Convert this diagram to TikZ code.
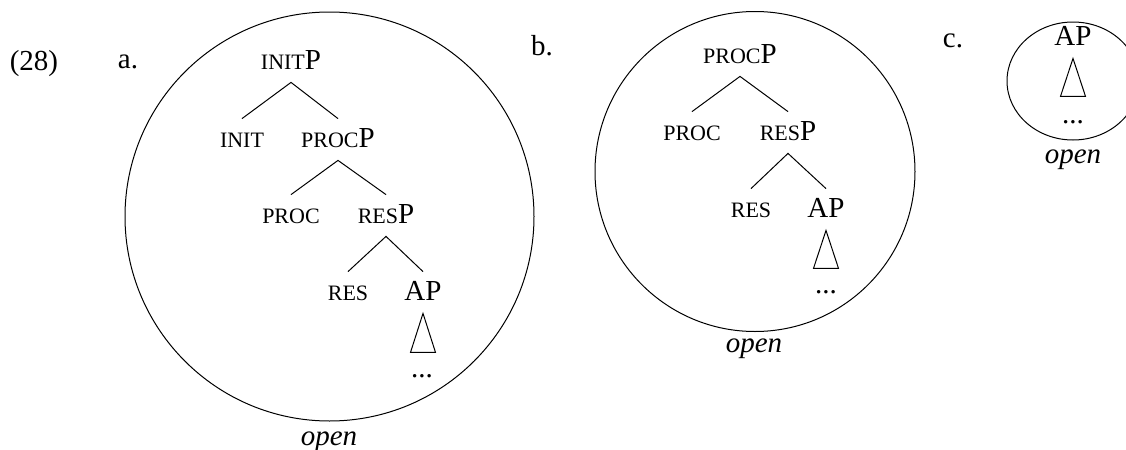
\documentclass[tikz,border=0pt]{standalone}
\usepackage{fontspec}
\setmainfont{Liberation Serif}
\newcommand{\smc}[1]{{\fontsize{11}{13}\selectfont #1}}
\tikzset{
  lab/.style={anchor=base,inner sep=0pt,font=\fontsize{14.5}{17}\selectfont},
  cat/.style={anchor=base,inner xsep=0pt,inner ysep=4.5pt,text height=9.5pt,text depth=2pt,font=\fontsize{14.5}{17}\selectfont},
  branch/.style={line width=0.5pt},
  ring/.style={line width=0.5pt}
}
\begin{document}
\begin{tikzpicture}[x=0.5pt,y=-0.5pt]
        \useasboundingbox (0,0) rectangle (1126,450);
        \node[lab] (ex) at (34,70) {(28)};
        \node[lab] (la) at (128,68) {a.};
        \node[lab] (lb) at (542,55) {b.};
        \node[lab] (lc) at (953,47) {c.};
        \begin{scope}
        \draw[ring] (329.5,216.5) circle [radius=204.5];
        \node[cat] (initP) at (291,69) {\smc{INIT}P};
        \node[cat] (init) at (242,147) {\smc{INIT}};
        \node[cat] (procP) at (338,147) {\smc{PROC}P};
        \node[cat] (proc) at (291,223) {\smc{PROC}};
        \node[cat] (resP) at (386,223) {\smc{RES}P};
        \node[cat] (res) at (348,300) {\smc{RES}};
        \node[cat] (APa) at (423,300) {AP};
        \node[lab] (dotsA) at (422,377) {...};
        \node[lab] (openA) at (329,445) {\textit{open}};
        \draw[branch] (init.north) -- (initP.south) -- (procP.north);
        \draw[branch] (proc.north) -- (procP.south) -- (resP.north);
        \draw[branch] (res.north) -- (resP.south) -- (APa.north);
        \draw[branch] (APa.south) -- ++(-12.5,39) -- ++(25,0) -- cycle;
        \end{scope}
        \begin{scope}
        \draw[ring] (755,171.5) circle [radius=160];
        \node[cat] (procPb) at (740,63) {\smc{PROC}P};
        \node[cat] (procb) at (692,140) {\smc{PROC}};
        \node[cat] (resPb) at (788,140) {\smc{RES}P};
        \node[cat] (resb) at (751,217) {\smc{RES}};
        \node[cat] (APb) at (826,217) {AP};
        \node[lab] (dotsB) at (826,293) {...};
        \node[lab] (openB) at (754,352) {\textit{open}};
        \draw[branch] (procb.north) -- (procPb.south) -- (resPb.north);
        \draw[branch] (resb.north) -- (resPb.south) -- (APb.north);
        \draw[branch] (APb.south) -- ++(-12.5,38) -- ++(25,0) -- cycle;
        \end{scope}
        \begin{scope}
        \draw[ring] (1073,81) ellipse [x radius=66,y radius=59];
        \node[cat] (APc) at (1073,45) {AP};
        \node[lab] (dotsC) at (1073,123) {...};
        \node[lab] (openC) at (1073,163) {\textit{open}};
        \draw[branch] (APc.south) -- ++(-12.5,38) -- ++(25,0) -- cycle;
        \end{scope}
\end{tikzpicture}
\end{document}
